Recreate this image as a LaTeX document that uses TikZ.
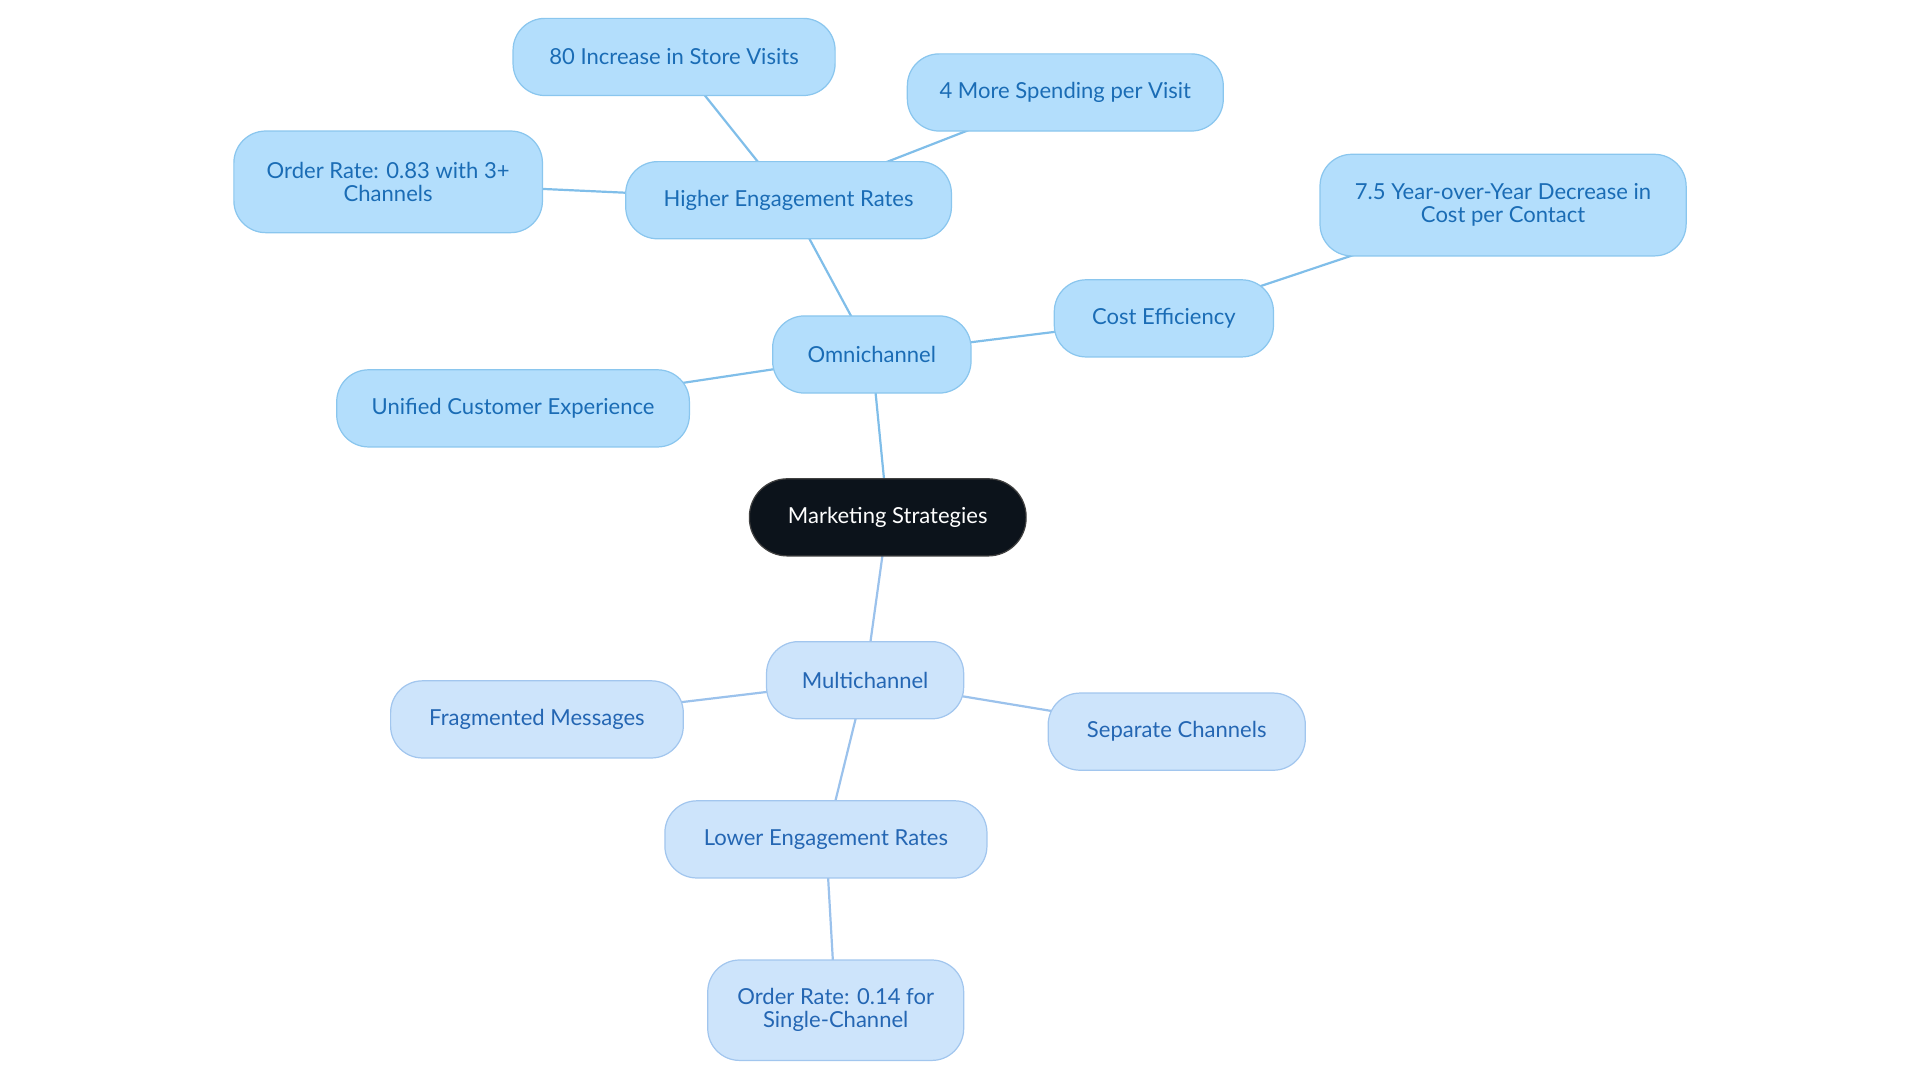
\documentclass[tikz,border=0pt]{standalone}
\usepackage{fontspec}
\setmainfont{Lato}
\usetikzlibrary{backgrounds}

\definecolor{omnifill}{HTML}{B3DEFC}
\definecolor{omnidraw}{HTML}{8AC6EE}
\definecolor{omnitext}{HTML}{1A6CB5}
\definecolor{multifill}{HTML}{CDE4FB}
\definecolor{multidraw}{HTML}{A2C6EE}
\definecolor{multitext}{HTML}{2466B3}
\definecolor{rootfill}{HTML}{0C131B}
\definecolor{omniedge}{HTML}{80BEE9}
\definecolor{multiedge}{HTML}{9BC2EC}

\begin{document}
\begin{tikzpicture}[x=0.5pt,y=-0.5pt]
        \tikzstyle{box}=[rectangle,rounded corners=13pt,minimum height=31.5pt,inner sep=0pt,align=center,font=\fontsize{9}{9.5}\selectfont,line width=0.5pt]
        \tikzstyle{root}=[box,rounded corners=15.5pt,fill=rootfill,draw=black!75,text=white]
        \tikzstyle{omni}=[box,fill=omnifill,draw=omnidraw,text=omnitext]
        \tikzstyle{multi}=[box,fill=multifill,draw=multidraw,text=multitext]
        \tikzstyle{omniline}=[draw=omniedge,line width=0.9pt]
        \tikzstyle{multiline}=[draw=multiedge,line width=0.9pt]

        \useasboundingbox (0,0) rectangle (1568,884);

        \node (ms)[root, minimum width=113pt] at (725,422.5) {Marketing Strategies};

        \node (oc)[omni, minimum width=81pt] at (712,289.5) {Omnichannel};
        \node (he)[omni, minimum width=133pt] at (644,163.5) {Higher Engagement Rates};
        \node (sv)[omni, minimum width=131.5pt] at (550.5,46.5) {80 Increase in Store Visits};
        \node (sp)[omni, minimum width=129pt] at (870,75.5) {4 More Spending per Visit};
        \node (or)[omni, minimum width=126pt, minimum height=41.5pt] at (317,148.5) {Order Rate: 0.83 with 3+\\Channels};
        \node (ce)[omni, minimum width=89.5pt] at (950.5,260) {Cost Efficiency};
        \node (yy)[omni, minimum width=149.5pt, minimum height=41.5pt] at (1227.5,167.5) {7.5 Year-over-Year Decrease in\\Cost per Contact};
        \node (uc)[omni, minimum width=144pt] at (419,333.5) {Unified Customer Experience};

        \node (mc)[multi, minimum width=80.5pt] at (706.5,555.5) {Multichannel};
        \node (fm)[multi, minimum width=119.5pt] at (438.5,587.5) {Fragmented Messages};
        \node (sc)[multi, minimum width=105pt] at (961,597.5) {Separate Channels};
        \node (le)[multi, minimum width=131.5pt] at (674.5,685.5) {Lower Engagement Rates};
        \node (os)[multi, minimum width=104.5pt, minimum height=41pt] at (682.5,825) {Order Rate: 0.14 for\\Single-Channel};

        \begin{scope}[on background layer]
        \draw[omniline] (ms.center) -- (oc.center);
        \draw[omniline] (oc.center) -- (he.center);
        \draw[omniline] (he.center) -- (sv.center);
        \draw[omniline] (he.center) -- (sp.center);
        \draw[omniline] (he.center) -- (or.center);
        \draw[omniline] (oc.center) -- (ce.center);
        \draw[omniline] (ce.center) -- (yy.center);
        \draw[omniline] (oc.center) -- (uc.center);

        \draw[multiline] (ms.center) -- (mc.center);
        \draw[multiline] (mc.center) -- (fm.center);
        \draw[multiline] (mc.center) -- (sc.center);
        \draw[multiline] (mc.center) -- (le.center);
        \draw[multiline] (le.center) -- (os.center);
        \end{scope}
    \end{tikzpicture}
\end{document}
